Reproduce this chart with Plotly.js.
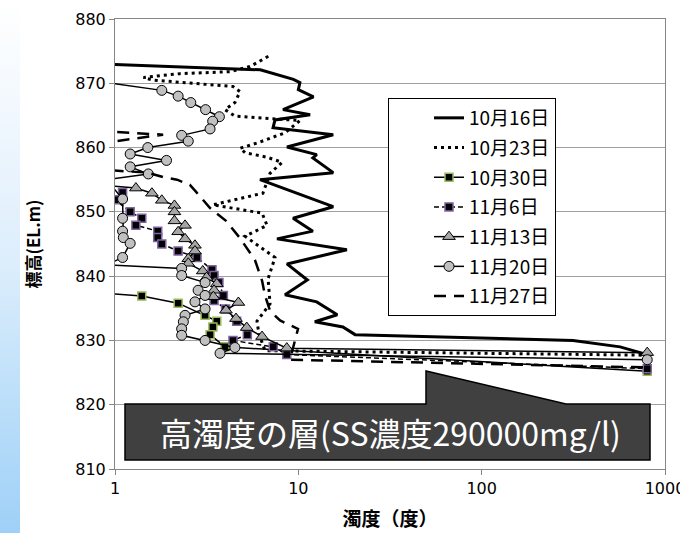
<!DOCTYPE html>
<html><head><meta charset="utf-8">
<script src="https://cdn.plot.ly/plotly-3.0.1.min.js"></script>
<style>
html,body{margin:0;padding:0;background:#fff;}
#wrap{position:relative;width:680px;height:533px;overflow:hidden;}
#strip{position:absolute;left:0;top:0;width:20px;height:533px;background:linear-gradient(to bottom,#ffffff 0%,#f2f8fe 20%,#dcedfc 50%,#bcdff9 75%,#9fd0f7 100%);}
#chart{position:absolute;left:0;top:0;width:680px;height:533px;}
</style></head><body>
<div id="wrap"><div id="strip"></div><div id="chart"></div></div>
<script>
// ---- data (turbidity [deg], elevation [EL.m]) ----
const names = ['10月16日','10月23日','10月30日','11月6日','11月13日','11月20日','11月27日'];

const turb_1016 = [0.9,6.2,9.4,10.2,10.0,12.1,8.25,11.6,7.46,7.28,15.5,8.67,12.6,12.0,15.5,6.18,15.5,9.36,12.0,7.65,18.4,8.67,11.2,8.46,12.6,16.3,12.3,17.5,20.4,315,569,800];
const elev_1016 = [872.95,872.1,870.6,870.1,869.0,867.9,865.9,865.1,864.3,863.1,862.0,860.1,858.9,858.4,856.1,855.0,850.8,849.0,847.0,845.8,844.1,841.9,839.4,837.1,836.0,834.0,832.9,832.1,830.9,830.0,829.0,827.8];

const turb_1023 = [6.86,5.45,4.24,2.26,1.43,1.61,4.40,4.81,4.51,3.98,4.51,6.75,10.2,8.46,5.95,4.81,5.12,6.75,8.15,7.01,6.41,3.42,6.34,6.75,5.12,7.46,6.84,7.01,5.95,6.10,6.58,800];
const elev_1023 = [874.2,872.6,871.8,871.5,870.9,870.5,869.5,868.7,867.0,865.9,864.9,864.5,864.2,862.3,860.7,859.9,859.2,858.5,857.7,856.0,852.9,851.1,849.8,847.9,846.2,842.9,839.6,835.7,833.0,831.0,828.4,827.7];

const turb_1030 = [0.7,1.40,2.21,3.10,3.59,3.42,3.30,3.98,800];
const elev_1030 = [837.6,836.9,835.8,833.9,833.0,832.1,830.9,829.0,825.2];

const turb_1106 = [1.10,1.00,1.21,1.40,1.30,1.71,1.71,1.80,2.21,2.80,3.38,3.47,3.69,3.90,3.47,4.01,4.61,5.27,4.40,7.30,8.65,800];
const elev_1106 = [853.0,851.9,850.0,849.0,847.9,847.0,846.0,845.0,843.9,842.9,841.0,840.1,839.0,837.0,836.2,834.9,833.0,830.9,830.0,829.0,827.8,825.6];

const turb_1113 = [0.7,1.30,1.59,1.80,2.11,2.11,2.11,2.41,2.21,2.41,2.73,2.73,2.51,2.51,3.01,3.16,3.59,3.47,3.44,4.71,4.03,4.57,5.23,6.34,8.65,800];
const elev_1113 = [854.4,853.7,852.9,851.8,851.0,850.0,848.6,847.9,846.9,845.8,844.8,843.9,842.7,842.0,840.8,839.8,838.8,837.8,836.8,835.9,834.7,833.4,832.0,830.6,828.8,828.1];

const turb_1120 = [0.9,1.80,2.21,2.59,3.12,3.71,3.41,3.30,2.31,2.51,1.51,1.21,1.91,1.21,1.52,0.9,1.10,1.10,1.10,1.11,1.21,1.10,0.9,2.31,2.31,3.10,2.84,3.10,2.73,3.10,2.41,2.36,2.31,2.31,3.10,4.51,3.74,800];
const elev_1120 = [870.1,868.9,868.0,867.0,865.9,864.8,864.1,862.9,861.9,861.0,860.0,859.0,858.0,857.0,855.9,855.0,852.0,849.0,847.0,846.0,845.1,842.9,841.75,841.2,840.1,839.0,837.8,837.0,836.0,834.9,833.9,832.9,831.8,830.8,830.0,828.9,828.0,827.0];

const turb_1127 = [0.8,1.83,0.85,0.9,1.51,1.83,2.18,2.56,2.77,3.30,4.03,4.81,5.80,6.34,6.58,7.01,7.95,9.96,9.0,800];
const elev_1127 = [862.6,862.0,860.7,856.5,856.1,855.4,855.0,854.2,853.1,850.6,848.6,845.9,842.5,839.3,837.0,834.6,833.1,831.8,827.0,825.8];

const xTickVals = [1,10,100,1000];
const xTickText = ['1','10','100','1000'];

const traces = [
  {x:turb_1016, y:elev_1016, name:names[0], mode:'lines', line:{color:'#000',width:3}},
  {x:turb_1023, y:elev_1023, name:names[1], mode:'lines', line:{color:'#000',width:3,dash:'3px,4px'}},
  {x:turb_1030, y:elev_1030, name:names[2], mode:'lines+markers', line:{color:'#000',width:1.5},
    marker:{symbol:'square',size:8,color:'#000',line:{color:'#9bbb59',width:1.5}}},
  {x:turb_1106, y:elev_1106, name:names[3], mode:'lines+markers', line:{color:'#000',width:1.5,dash:'5px,3px'},
    marker:{symbol:'square',size:8,color:'#000',line:{color:'#8064a2',width:1.5}}},
  {x:turb_1113, y:elev_1113, name:names[4], mode:'lines+markers', line:{color:'#000',width:1.5},
    marker:{symbol:'triangle-up',size:11,color:'#a6a6a6',line:{color:'#000',width:1}}},
  {x:turb_1120, y:elev_1120, name:names[5], mode:'lines+markers', line:{color:'#000',width:1.5},
    marker:{symbol:'circle',size:10,color:'#c0c0c0',line:{color:'#000',width:1}}},
  {x:turb_1127, y:elev_1127, name:names[6], mode:'lines', line:{color:'#000',width:2.5,dash:'12px,8px'}}
];
traces.forEach((t,i)=>{t.type='scatter'; t.legendgroup='g'+i; t.hoverinfo='none';});

const W=680,H=533,L=115,R=15,T=19,B=64;
const pw=W-L-R, ph=H-T-B;
const px=v=>(v-L)/pw, py=v=>(H-B-v)/ph;

const layout = {
  width:W, height:H,
  margin:{l:L,r:R,t:T,b:B,pad:0},
  paper_bgcolor:'rgba(0,0,0,0)', plot_bgcolor:'rgba(0,0,0,0)',
  showlegend:true,
  legend:{x:px(388), y:py(98), xanchor:'left', yanchor:'top', bgcolor:'#fff',
    bordercolor:'#000', borderwidth:1, tracegroupgap:2, indentation:40,
    font:{family:'Noto Sans CJK JP', size:19, color:'#000'}, traceorder:'grouped'},
  xaxis:{type:'log', range:[0,3], tickvals:xTickVals, ticktext:xTickText, ticklabeloverflow:'allow',
    ticks:'outside', ticklen:5, tickcolor:'#868686', showline:true, linecolor:'#868686', linewidth:1,
    mirror:true, showgrid:false, zeroline:false,
    tickfont:{family:'DejaVu Sans', size:16, color:'#000'},
    title:{text:'濁度（度）', standoff:15, font:{family:'Noto Sans CJK JP', size:19, weight:700, color:'#000'}}},
  yaxis:{range:[810,880], tick0:810, dtick:10, ticks:'outside', ticklen:5, tickcolor:'#868686',
    showline:true, linecolor:'#868686', linewidth:1, mirror:true,
    showgrid:true, gridcolor:'#a0a0a0', gridwidth:1, zeroline:false,
    tickfont:{family:'DejaVu Sans', size:16, color:'#000'},
    title:{text:'標高(EL.m)', standoff:30, font:{family:'Noto Sans CJK JP', size:17, weight:700, color:'#000'}}},
  shapes:[{type:'path', xref:'paper', yref:'paper',
    path:`M${px(125)},${py(404)} L${px(426)},${py(404)} L${px(426)},${py(371)} L${px(566)},${py(404)} L${px(650)},${py(404)} L${px(650)},${py(460)} L${px(125)},${py(460)} Z`,
    fillcolor:'#404040', line:{color:'#000',width:1.5}, layer:'above'}],
  annotations:[{xref:'paper', yref:'paper', x:px(390), y:py(432), xanchor:'center', yanchor:'middle',
    text:'高濁度の層(SS濃度290000mg/l)', showarrow:false,
    font:{family:'Noto Sans CJK JP', size:32, color:'#fff'}}]
};

Plotly.newPlot('chart', traces, layout, {staticPlot:true, displayModeBar:false});
</script></body></html>
